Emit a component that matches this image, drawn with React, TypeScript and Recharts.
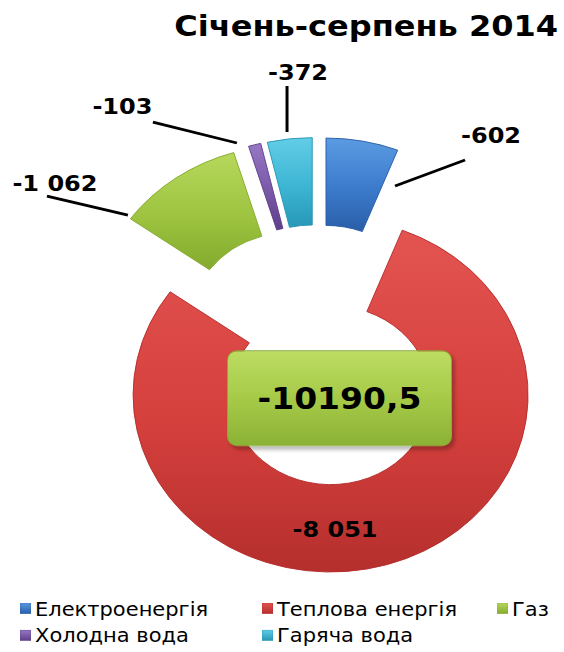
import React from "react";
import { PieChart, Pie, Cell, Legend } from "recharts";

// ---- data ----
const TITLE = "Січень-серпень 2014";
const CATEGORIES = ["Електроенергія", "Теплова енергія", "Газ", "Холодна вода", "Гаряча вода"];
const VALUES = [602.3, 8050.8, 1062.2, 103.1, 372.1];

// ---- styles ----
const COLORS = ["#3b7acb", "#d5403d", "#9dc340", "#7a58a8", "#3cb5d3"];
const LIGHT = ["#5b9be2", "#e35450", "#b6d85c", "#9678c4", "#63cde6"];
const DARK = ["#2a5ea8", "#b52f2d", "#84aa2e", "#5e408a", "#2797b6"];
const FONT = "'DejaVu Sans', sans-serif";

const W = 564;
const H = 652;
const SY = 0.896; // vertical squash of the original picture
const CH = H / SY;
const CX = 317.5;
const CY = 396.8;
const R_OUT = 197.5;
const R_IN = 100;
const EXPLODE = 46;

const DATA = CATEGORIES.map((name, i) => ({ name, value: VALUES[i] }));
const TOTAL = VALUES.reduce((a, b) => a + b, 0);

// explosion offsets (along each slice's middle direction)
const OFFSETS = (() => {
  let acc = 0;
  return VALUES.map((v) => {
    const mid = ((acc + v / 2) / TOTAL) * 2 * Math.PI;
    acc += v;
    return { dx: EXPLODE * Math.sin(mid), dy: -EXPLODE * Math.cos(mid) };
  });
})();

const fmt = (v: number) => "-" + String(Math.round(v)).replace(/\B(?=(\d{3})+(?!\d))/g, " ");
const TOTAL_LABEL = "-" + TOTAL.toFixed(1).replace(".", ",");

// label leader layout, relative to the slice's outer middle point
const LABEL_LAYOUT: { line: number[] | null; text: number[] }[] = [
  { line: [32.6, 50.1, 102.6, 21.1], text: [128.6, 2.1] },
  { line: null, text: [-51.7, -31] },
  { line: [-48, 41.4, -129, 20.2], text: [-121, 14.6] },
  { line: [-17.7, -1.9, -101.7, -25.3], text: [-132.2, -34.3] },
  { line: [-2.6, -7.6, -2.6, -58.9], text: [8.4, -65.6] },
];

const makeLabel = (k: number) => (props: any) => {
  if (props.index !== k) return null;
  const { cx, cy, midAngle, outerRadius } = props;
  const rad = (-midAngle * Math.PI) / 180;
  const ox = cx + outerRadius * Math.cos(rad);
  const oy = cy + outerRadius * Math.sin(rad);
  const lay = LABEL_LAYOUT[k];
  return (
    <g>
      {lay.line && (
        <line
          x1={ox + lay.line[0]}
          y1={oy + lay.line[1]}
          x2={ox + lay.line[2]}
          y2={oy + lay.line[3]}
          stroke="#000"
          strokeWidth={3}
        />
      )}
      <text
        x={ox + lay.text[0]}
        y={oy + lay.text[1]}
        textAnchor="middle"
        fontFamily={FONT}
        fontWeight="bold"
        fontSize={24}
        fill="#000"
      >
        {fmt(VALUES[k])}
      </text>
    </g>
  );
};

const LEG_COLS = [20, 262, 497];

const renderLegend = (props: any) => {
  const payload = props.payload || [];
  const seen = new Set<string>();
  payload.forEach((e: any) => seen.add(e.value));
  const present = CATEGORIES.filter((c) => seen.has(c));
  const list = present.length ? present : CATEGORIES;
  return (
    <div style={{ position: "relative", width: W, height: 64, fontFamily: FONT, fontSize: 21 }}>
      {list.map((name: string, i: number) => {
        const idx = CATEGORIES.indexOf(name);
        const row = i < 3 ? 0 : 1;
        const col = i < 3 ? i : i - 3;
        return (
          <div
            key={name}
            style={{
              position: "absolute",
              left: LEG_COLS[col],
              top: row * 30,
              height: 24,
              lineHeight: "24px",
              whiteSpace: "nowrap",
              color: "#000",
            }}
          >
            <span
              style={{
                position: "absolute",
                left: 0,
                top: 4.6,
                width: 11,
                height: 12.3,
                background: `linear-gradient(${LIGHT[idx]}, ${DARK[idx]})`,
                boxShadow: `inset 0 0 2px ${DARK[idx]}`,
              }}
            />
            <span style={{ position: "absolute", left: 15, top: 0 }}>{name}</span>
          </div>
        );
      })}
    </div>
  );
};

export default function App() {
  return (
    <div style={{ position: "absolute", left: 0, top: 0, width: W, height: H, overflow: "hidden", background: "#fff" }}>
      <div style={{ position: "relative", width: W, height: CH, transform: `scaleY(${SY})`, transformOrigin: "0 0" }}>
        <PieChart width={W} height={CH} margin={{ top: 0, right: 0, bottom: 0, left: 0 }}>
          <defs>
            {COLORS.map((c, i) => (
              <linearGradient key={i} id={`g${i}`} x1="0" y1="0" x2="0" y2="1">
                <stop offset="0%" stopColor={LIGHT[i]} />
                <stop offset="55%" stopColor={c} />
                <stop offset="100%" stopColor={DARK[i]} />
              </linearGradient>
            ))}
          </defs>
          <text x={558} y={40.2} textAnchor="end" fontFamily={FONT} fontWeight="bold" fontSize={32} fill="#000">
            {TITLE}
          </text>
          {VALUES.map((_, k) => (
            <Pie
              key={k}
              data={DATA}
              dataKey="value"
              nameKey="name"
              cx={CX + OFFSETS[k].dx}
              cy={CY + OFFSETS[k].dy}
              innerRadius={R_IN}
              outerRadius={R_OUT}
              startAngle={90}
              endAngle={-270}
              stroke="none"
              isAnimationActive={false}
              legendType={k === 0 ? "square" : "none"}
              label={makeLabel(k)}
              labelLine={false}
            >
              {DATA.map((d, i) => (
                <Cell
                  key={d.name}
                  fill={i === k ? `url(#g${i})` : "transparent"}
                  stroke={i === k ? DARK[i] : "none"}
                  strokeWidth={i === k ? 1 : 0}
                />
              ))}
            </Pie>
          ))}
          <Legend
            content={renderLegend}
            wrapperStyle={{ position: "absolute", left: 0, top: 668.4, bottom: "auto", width: W, height: 64 }}
          />
        </PieChart>
        <div
          style={{
            position: "absolute",
            left: 227,
            top: 390.6,
            width: 225,
            height: 107.2,
            boxSizing: "border-box",
            borderRadius: "10px / 11px",
            background: "linear-gradient(#bcdc62, #a6ca48 50%, #8cb236)",
            border: "1px solid #86ab36",
            boxShadow: "3px 4px 4px rgba(0,0,0,0.25)",
            display: "flex",
            alignItems: "center",
            justifyContent: "center",
            fontFamily: FONT,
            fontWeight: "bold",
            fontSize: 33,
            color: "#000",
            lineHeight: "1",
          }}
        >
          {TOTAL_LABEL}
        </div>
      </div>
    </div>
  );
}
